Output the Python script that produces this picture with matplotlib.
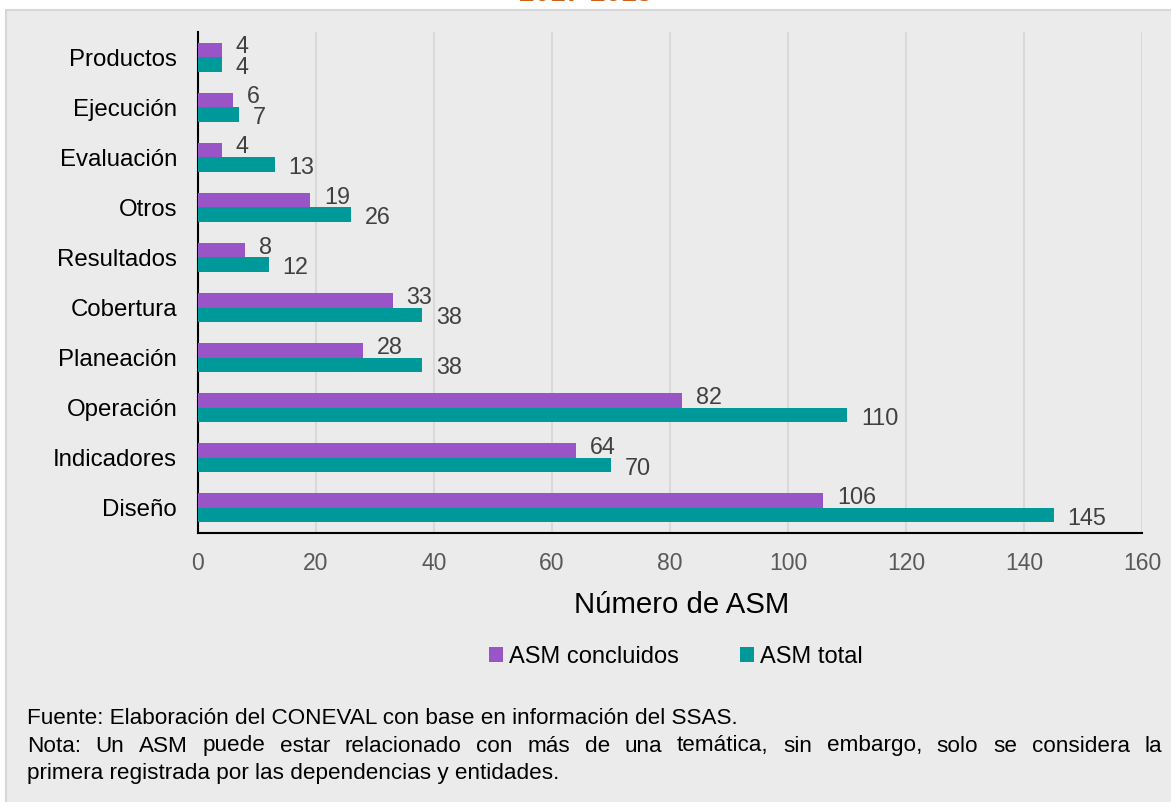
import numpy as np
import matplotlib
matplotlib.use("Agg")
from matplotlib import pyplot as plt
from matplotlib.patches import Rectangle

plt.rcParams['font.family'] = ['Liberation Sans', 'DejaVu Sans']

# datos (de abajo hacia arriba)
categorias = ['Diseño', 'Indicadores', 'Operación', 'Planeación', 'Cobertura',
              'Resultados', 'Otros', 'Evaluación', 'Ejecución', 'Productos']
asm_concluidos = [106, 64, 82, 28, 33, 8, 19, 4, 6, 4]
asm_total = [145, 70, 110, 38, 38, 12, 26, 13, 7, 4]

morado = '#9955C8'
verde = '#009999'
fondo = '#EBEBEB'

W, H = 1171, 802
fig = plt.figure(figsize=(W / 100, H / 100), dpi=100)
fig.patch.set_facecolor('white')

# recuadro gris de fondo
fig.patches.append(Rectangle((6 / W, -0.01), 1.0, 1 - 10 / H + 0.01,
                             transform=fig.transFigure, facecolor=fondo,
                             edgecolor='#D6D6D6', linewidth=1.5, zorder=-5))

# título cortado arriba
fig.text(0.5, 1 - 7 / H, '2017-2018', ha='center', va='bottom',
         color='#D0601A', fontsize=20, fontweight='bold')

ax = fig.add_axes([198 / W, 1 - 533 / H, (1142 - 198) / W, (533 - 32) / H])
ax.set_zorder(2)
ax.set_facecolor(fondo)

y = np.arange(len(categorias))
h = 0.29
b1 = ax.barh(y + h / 2, asm_concluidos, height=h, color=morado, label='ASM concluidos', zorder=3)
b2 = ax.barh(y - h / 2, asm_total, height=h, color=verde, label='ASM total', zorder=3)

for bar, v in zip(b1, asm_concluidos):
    ax.annotate(str(v), (bar.get_width(), bar.get_y() + bar.get_height() / 2 + 0.06),
                xytext=(10, 0), textcoords='offset points', va='center', ha='left',
                fontsize=16.8, color='#404040')
for bar, v in zip(b2, asm_total):
    ax.annotate(str(v), (bar.get_width(), bar.get_y() + bar.get_height() / 2 - 0.06),
                xytext=(10, 0), textcoords='offset points', va='center', ha='left',
                fontsize=16.8, color='#404040')

ax.set_xlim(0, 160)
ax.set_ylim(-0.5, len(categorias) - 0.5)
ax.set_xticks(np.arange(0, 161, 20))
ax.set_yticks(y)
ax.set_yticklabels(categorias, fontsize=17.3, color='black')
ax.tick_params(axis='x', labelsize=16.5, colors='#595959', length=0, pad=14)
ax.tick_params(axis='y', length=0, pad=15)
ax.xaxis.grid(True, color='#D9D9D9', linewidth=1.5, zorder=0)
ax.set_axisbelow(True)
for s in ['top', 'right']:
    ax.spines[s].set_visible(False)
for s in ['left', 'bottom']:
    ax.spines[s].set_color('black')
    ax.spines[s].set_linewidth(1.5)
ax.set_xlabel('Número de ASM', fontsize=21.2, color='black')
ax.xaxis.set_label_coords(0.512, -0.115)

fig.legend(handles=[b1, b2], labels=['ASM concluidos', 'ASM total'],
           loc='center', bbox_to_anchor=(0.577, 1 - 657 / H), ncol=2,
           frameon=False, fontsize=17, handlelength=0.6, handleheight=0.6,
           handletextpad=0.25, columnspacing=2.6)

# notas al pie
fuente = 'Fuente: Elaboración del CONEVAL con base en información del SSAS.'
nota1 = 'Nota: Un ASM puede estar relacionado con más de una temática, sin embargo, solo se considera la'
nota2 = 'primera registrada por las dependencias y entidades.'
fs_nota = 16.2
x0, x1 = 27, 1162

fig.text(x0 / W, 1 - 718 / H, fuente, fontsize=fs_nota, va='center', ha='left')
fig.text(x0 / W, 1 - 773 / H, nota2, fontsize=fs_nota, va='center', ha='left')

# línea justificada
renderer = fig.canvas.get_renderer()
palabras = nota1.split(' ')
anchos = []
for p in palabras:
    t = fig.text(0, 0, p, fontsize=fs_nota)
    anchos.append(t.get_window_extent(renderer).width)
    t.remove()
hueco = (x1 - x0 - sum(anchos)) / (len(palabras) - 1)
xp = x0
for p, w in zip(palabras, anchos):
    fig.text(xp / W, 1 - 746 / H, p, fontsize=fs_nota, va='center', ha='left')
    xp += w + hueco

fig.savefig('out.png', dpi=100, facecolor=fig.get_facecolor())
